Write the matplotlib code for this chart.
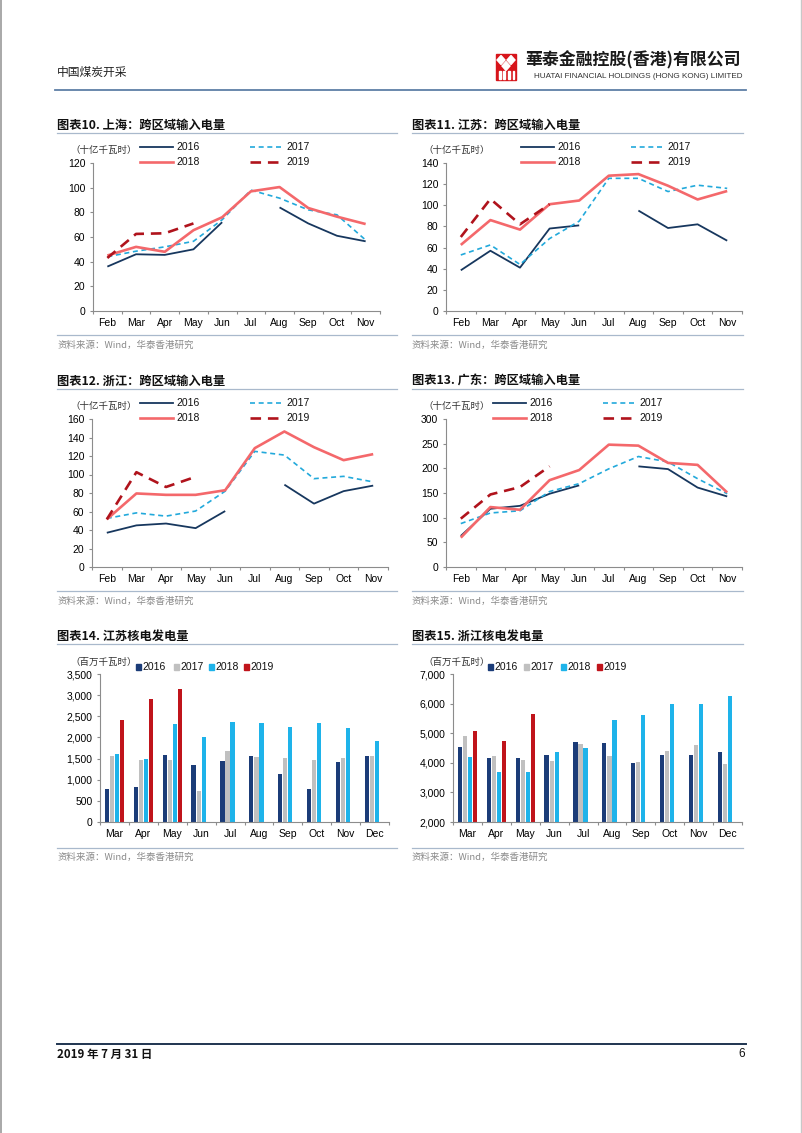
import numpy as np
import matplotlib
matplotlib.use("Agg")
import matplotlib.pyplot as plt
from matplotlib.lines import Line2D
from matplotlib.patches import Rectangle, Polygon

W, H = 802, 1133
CJK = ['Noto Sans CJK SC', 'DejaVu Sans']
LAT = ['Liberation Sans', 'DejaVu Sans']
plt.rcParams['font.family'] = LAT

nan = np.nan
months_line = ['Feb', 'Mar', 'Apr', 'May', 'Jun', 'Jul', 'Aug', 'Sep', 'Oct', 'Nov']
months_bar = ['Mar', 'Apr', 'May', 'Jun', 'Jul', 'Aug', 'Sep', 'Oct', 'Nov', 'Dec']
years = ['2016', '2017', '2018', '2019']

# 图表10 上海
sh_2016 = [36, 46, 45.5, 50, 72, nan, 84, 71, 61, 56.5]
sh_2017 = [44, 48.5, 52, 56.5, 74, 98, 91.5, 82, 78, 57.5]
sh_2018 = [45, 52, 48, 65.5, 76, 97, 100.5, 83.5, 76.5, 70.5]
sh_2019 = [43, 62.5, 63, 71, nan, nan, nan, nan, nan, nan]
# 图表11 江苏
js_2016 = [38.5, 57, 41, 78, 81, nan, 95, 78.5, 82, 66.5]
js_2017 = [53, 62.5, 44, 68.5, 85, 125.5, 125.5, 113, 119, 116]
js_2018 = [62.5, 86, 77, 101, 104.5, 128, 129.5, 118.5, 105.5, 113.5]
js_2019 = [70, 106, 82, 101, nan, nan, nan, nan, nan, nan]
# 图表12 浙江
zj_2016 = [37, 45, 47, 42, 60.5, nan, 89, 68.5, 82, 88]
zj_2017 = [52.5, 58.5, 55, 60.5, 82, 125, 121, 95.5, 98, 92]
zj_2018 = [51.5, 79.5, 78, 78, 83, 128.5, 146.5, 129.5, 115.5, 122]
zj_2019 = [51.5, 102.5, 86.5, 97.5, nan, nan, nan, nan, nan, nan]
# 图表13 广东
gd_2016 = [63, 118, 124, 148.5, 165.5, nan, 204, 198.5, 161, 143]
gd_2017 = [88, 109.5, 114, 153, 169, 199, 224, 213, 179, 148.5]
gd_2018 = [59.5, 121.5, 116, 176, 196.5, 248, 246, 211, 207, 151]
gd_2019 = [98, 147, 162, 204, nan, nan, nan, nan, nan, nan]
# 图表14 江苏核电发电量
jsn_2016 = [780, 820, 1585, 1340, 1440, 1560, 1145, 780, 1410, 1565]
jsn_2017 = [1565, 1475, 1475, 740, 1690, 1535, 1505, 1475, 1505, 1560]
jsn_2018 = [1610, 1500, 2310, 2000, 2375, 2350, 2245, 2335, 2230, 1920]
jsn_2019 = [2420, 2900, 3155, nan, nan, nan, nan, nan, nan, nan]
# 图表15 浙江核电发电量
zjn_2016 = [4535, 4160, 4160, 4250, 4690, 4660, 3995, 4275, 4250, 4365]
zjn_2017 = [4905, 4240, 4105, 4060, 4635, 4220, 4040, 4400, 4600, 3970]
zjn_2018 = [4205, 3700, 3700, 4365, 4490, 5455, 5625, 6000, 6000, 6270]
zjn_2019 = [5085, 4750, 5640, nan, nan, nan, nan, nan, nan, nan]

line_colors = ['#17375E', '#22A9DB', '#F4686B', '#B0131C']
line_styles = ['-', (0, (3, 2.2)), '-', (0, (4, 2.6))]
line_widths = [1.3, 1.2, 1.9, 1.9]
bar_colors = ['#1B3C78', '#C0C0C0', '#1EB3EA', '#C0141B']

fig = plt.figure(figsize=(W / 100, H / 100), dpi=100)


def fx(x):
    return x / W


def fy(y):
    return 1 - y / H


def add_ax(x0, y0, x1, y1):
    return fig.add_axes([x0 / W, 1 - y1 / H, (x1 - x0) / W, (y1 - y0) / H])


def hline(x0, x1, y, color, lw):
    fig.add_artist(Line2D([fx(x0), fx(x1)], [fy(y), fy(y)], color=color, lw=lw,
                          transform=fig.transFigure))


def style_ax(ax, cats, ylim, yticks, fmt=None):
    for s in ['top', 'right']:
        ax.spines[s].set_visible(False)
    for s in ['left', 'bottom']:
        ax.spines[s].set_color('#8C8C8C')
        ax.spines[s].set_linewidth(0.8)
    ax.set_xlim(-0.5, len(cats) - 0.5)
    ax.set_ylim(*ylim)
    ax.set_yticks(yticks)
    if fmt:
        ax.set_yticklabels([fmt(v) for v in yticks])
    ax.set_xticks(np.arange(-0.5, len(cats), 1.0))
    ax.set_xticklabels([])
    ax.set_xticks(np.arange(len(cats)), minor=True)
    ax.set_xticklabels(cats, minor=True)
    ax.tick_params(axis='x', which='major', length=2.5, color='#8C8C8C', width=0.8)
    ax.tick_params(axis='x', which='minor', length=0, pad=5, labelsize=7.5)
    ax.tick_params(axis='y', length=2.5, color='#8C8C8C', width=0.8, pad=3, labelsize=7.5)
    ax.patch.set_alpha(0)


def title_block(x, y, text, line_x1, src_line_y, src_y):
    fig.text(fx(x), fy(y), text, family=CJK, fontsize=8.8, fontweight='bold',
             va='center', ha='left', color='#111111')
    hline(x, line_x1, y + 8, '#A9B9CC', 0.9)
    hline(x, line_x1, src_line_y, '#A9B9CC', 0.9)
    fig.text(fx(x), fy(src_y), '资料来源：Wind，华泰香港研究', family=CJK, fontsize=6.8,
             va='center', ha='left', color='#8A8A8A')


def line_chart(box, cats, series, ylim, yticks, title, tx, tline_x1, src_line_y, src_y,
               unit_xy, leg_x):
    ax = add_ax(*box)
    x = np.arange(len(cats))
    for i, s in enumerate(series):
        ax.plot(x, s, color=line_colors[i], ls=line_styles[i], lw=line_widths[i],
                solid_capstyle='butt', dash_capstyle='butt')
    style_ax(ax, cats, ylim, yticks)
    title_block(tx, box[1] - 38, title, tline_x1, src_line_y, src_y)
    fig.text(fx(unit_xy[0]), fy(unit_xy[1]), '（十亿千瓦时）', family=CJK, fontsize=6.8,
             va='center', ha='left', color='#333333')
    # legend
    ly = [box[1] - 16, box[1] - 16, box[1] - 1, box[1] - 1]
    lx = [leg_x, leg_x + 110, leg_x, leg_x + 110]
    for i in range(4):
        fig.add_artist(Line2D([fx(lx[i]), fx(lx[i] + 33)], [fy(ly[i]), fy(ly[i])],
                              color=line_colors[i], ls=line_styles[i], lw=line_widths[i],
                              transform=fig.transFigure, dash_capstyle='butt'))
        fig.text(fx(lx[i] + 36), fy(ly[i]), years[i], fontsize=7.5, va='center', ha='left',
                 color='#111111')
    return ax


def bar_chart(box, cats, series, ylim, yticks, title, tx, tline_x1, src_line_y, src_y,
              unit_xy, leg_xs):
    ax = add_ax(*box)
    x = np.arange(len(cats))
    slot = 0.175
    bw = 0.145
    for i, s in enumerate(series):
        vals = np.array(s, dtype=float)
        base = ylim[0]
        ax.bar(x + (i - 1.5) * slot, vals - base, bottom=base, width=bw, color=bar_colors[i],
               linewidth=0)
    style_ax(ax, cats, ylim, yticks, fmt=lambda v: f'{int(v):,}')
    title_block(tx, box[1] - 38, title, tline_x1, src_line_y, src_y)
    fig.text(fx(unit_xy[0]), fy(unit_xy[1]), '（百万千瓦时）', family=CJK, fontsize=6.8,
             va='center', ha='left', color='#333333')
    ly = box[1] - 7
    for i in range(4):
        fig.add_artist(Rectangle((fx(leg_xs[i]), fy(ly + 2.6)), 5.2 / W, 5.2 / H,
                                 color=bar_colors[i], transform=fig.transFigure))
        fig.text(fx(leg_xs[i] + 6), fy(ly), years[i], fontsize=7.5, va='center', ha='left',
                 color='#111111')
    return ax


# header
fig.text(fx(57), fy(72), '中国煤炭开采', family=CJK, fontsize=8.5, va='center', ha='left',
         color='#222222')
hline(55, 746, 90, '#5E7FA6', 1.3)
# logo
fig.add_artist(Rectangle((fx(496), fy(80)), 20 / W, 26 / H, color='#D7141A',
                         transform=fig.transFigure))
for cx, cy in [(501, 60), (511, 60), (506, 66)]:
    pts = [(fx(cx), fy(cy - 4.5)), (fx(cx + 4), fy(cy)), (fx(cx), fy(cy + 4.5)),
           (fx(cx - 4), fy(cy))]
    fig.add_artist(Polygon(pts, closed=True, color='white', transform=fig.transFigure))
for bx in [499, 503.5, 508, 512.5]:
    fig.add_artist(Rectangle((fx(bx), fy(79)), 1.6 / W, 8 / H, color='white',
                             transform=fig.transFigure))
fig.text(fx(741), fy(60), '華泰金融控股(香港)有限公司', family=CJK, fontsize=12.2,
         fontweight='bold', va='center', ha='right', color='#1A1A1A')
fig.text(fx(742), fy(77), 'HUATAI FINANCIAL HOLDINGS (HONG KONG) LIMITED', fontsize=5.9,
         va='center', ha='right', color='#333333')

# page border
fig.add_artist(Line2D([0.5 / W, 0.5 / W], [0, 1], color='#9A9A9A', lw=1.2,
                      transform=fig.transFigure))
fig.add_artist(Line2D([1 - 1.0 / W, 1 - 1.0 / W], [0, 1], color='#C8C8C8', lw=1.0,
                      transform=fig.transFigure))

# charts
line_chart((93, 163, 380, 311), months_line, [sh_2016, sh_2017, sh_2018, sh_2019],
           (0, 120), np.arange(0, 121, 20), '图表10. 上海：跨区域输入电量', 57, 397, 335, 345,
           (70, 150), 140)
line_chart((446, 163, 742, 311), months_line, [js_2016, js_2017, js_2018, js_2019],
           (0, 140), np.arange(0, 141, 20), '图表11. 江苏：跨区域输入电量', 412, 743, 335, 345,
           (423, 150), 521)
line_chart((92, 419, 388, 567), months_line, [zj_2016, zj_2017, zj_2018, zj_2019],
           (0, 160), np.arange(0, 161, 20), '图表12. 浙江：跨区域输入电量', 57, 397, 591, 601,
           (70, 406), 140)
line_chart((446, 419, 742, 567), months_line, [gd_2016, gd_2017, gd_2018, gd_2019],
           (0, 300), np.arange(0, 301, 50), '图表13. 广东：跨区域输入电量', 412, 743, 591, 601,
           (423, 406), 493)
bar_chart((100, 674, 389, 822), months_bar, [jsn_2016, jsn_2017, jsn_2018, jsn_2019],
          (0, 3500), np.arange(0, 3501, 500), '图表14. 江苏核电发电量', 57, 397, 848, 857,
          (70, 662), [136, 174, 209, 244])
bar_chart((453, 674, 742, 822), months_bar, [zjn_2016, zjn_2017, zjn_2018, zjn_2019],
          (2000, 7000), np.arange(2000, 7001, 1000), '图表15. 浙江核电发电量', 412, 743, 848, 857,
          (423, 662), [488, 524, 561, 597])

# footer
hline(57, 746, 1044, '#1F3450', 1.4)
fig.text(fx(57), fy(1054), '2019 年 7 月 31 日', family=CJK, fontsize=8.3, fontweight='bold',
         va='center', ha='left', color='#111111')
fig.text(fx(745), fy(1054), '6', fontsize=8.5, va='center', ha='right', color='#111111')

fig.savefig('out.png', dpi=100, facecolor='white')
